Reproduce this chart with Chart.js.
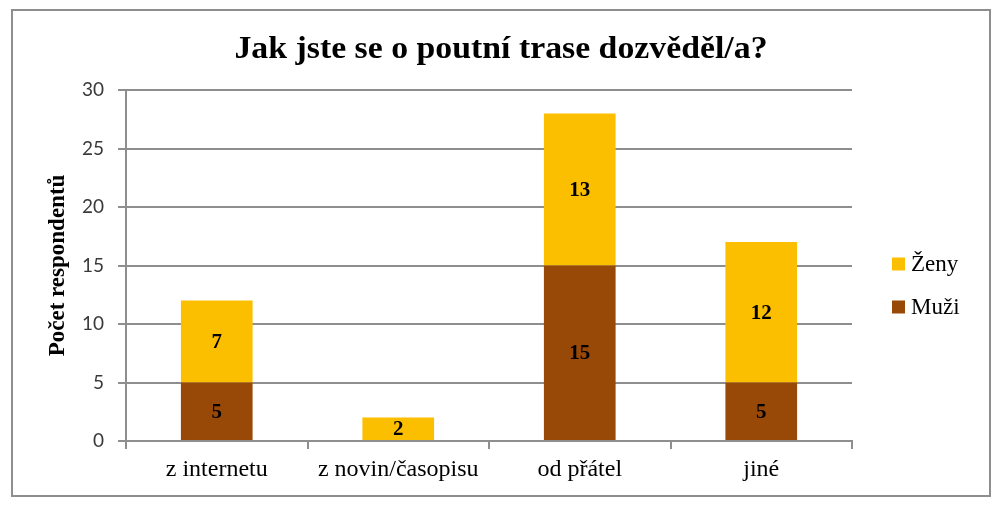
<!DOCTYPE html>
<html lang="cs">
<head>
  <meta charset="UTF-8" />
  <title>Jak jste se o poutní trase dozvěděl/a?</title>
  <style>
    body {
      margin: 0;
      background: #fff;
    }
    .ramecek {
      position: absolute;
      left: 11px;
      top: 9px;
      width: 976px;
      height: 484px;
      border: 2px solid #8e8e8e;
      pointer-events: none;
    }
    .obal {
      position: absolute;
      left: 0;
      top: 0;
      width: 1003px;
      height: 508px;
    }
  </style>
</head>
<body>
  <div class="obal"><canvas id="graf"></canvas></div>
  <div class="ramecek"></div>

  <script src="https://cdn.jsdelivr.net/npm/chart.js"></script>
  <script>
    const nadpis = 'Jak jste se o poutní trase dozvěděl/a?';
    const kategorie = ['z internetu', 'z novin/časopisu', 'od přátel', 'jiné'];
    const muzi = [5, 0, 15, 5];
    const zeny = [7, 2, 13, 12];
    const osaY = [0, 5, 10, 15, 20, 25, 30];

    const serif = '"Liberation Serif", "Times New Roman", serif';
    const sans = 'Lato, "Open Sans", sans-serif';

    // nadpis - v originale je trochu roztazeny do sirky
    const titulek = {
      id: 'titulek',
      afterDraw(chart) {
        const ctx = chart.ctx;
        ctx.save();
        ctx.font = 'bold 31px ' + serif;
        ctx.fillStyle = '#000';
        ctx.textAlign = 'center';
        ctx.textBaseline = 'alphabetic';
        ctx.translate(501, 58);
        ctx.scale(1.09, 1);
        ctx.fillText(nadpis, 0, 0);
        ctx.restore();
      }
    };

    // popisky hodnot uprostred sloupcu
    const popisky = {
      id: 'popisky',
      afterDatasetsDraw(chart) {
        const ctx = chart.ctx;
        ctx.save();
        ctx.font = 'bold 21px ' + serif;
        ctx.fillStyle = '#000';
        ctx.textAlign = 'center';
        ctx.textBaseline = 'middle';
        chart.data.datasets.forEach((ds, i) => {
          chart.getDatasetMeta(i).data.forEach((bar, j) => {
            const v = ds.data[j];
            if (!v) return;
            const p = bar.getProps(['x', 'y', 'base'], true);
            ctx.fillText(String(v), p.x, (p.y + p.base) / 2 + 1);
          });
        });
        ctx.restore();
      }
    };

    // legenda vpravo (Ženy nahore, Muži dole)
    const legenda = {
      id: 'legenda',
      afterDraw(chart) {
        const ctx = chart.ctx;
        ctx.save();
        ctx.font = '23px ' + serif;
        ctx.textBaseline = 'middle';
        const poradi = [1, 0];
        poradi.forEach((i, k) => {
          const ds = chart.data.datasets[i];
          const y = 264 + k * 43;
          ctx.fillStyle = ds.backgroundColor;
          ctx.fillRect(892, y - 6.5, 13, 13);
          ctx.fillStyle = '#000';
          ctx.fillText(ds.label, 911, y + 1);
        });
        ctx.restore();
      }
    };

    new Chart(document.getElementById('graf'), {
      type: 'bar',
      data: {
        labels: kategorie,
        datasets: [
          { label: 'Muži', data: muzi, backgroundColor: '#984807' },
          { label: 'Ženy', data: zeny, backgroundColor: '#fcbf00' }
        ]
      },
      options: {
        responsive: true,
        maintainAspectRatio: false,
        animation: false,
        events: [],
        layout: { padding: { left: 0, right: 151, top: 90, bottom: 0 } },
        datasets: {
          bar: { categoryPercentage: 1, barPercentage: 0.395 }
        },
        plugins: {
          legend: { display: false },
          tooltip: { enabled: false },
          title: { display: false }
        },
        scales: {
          x: {
            stacked: true,
            afterFit: s => { s.height = 67; },
            grid: { display: true, drawOnChartArea: false, color: '#8e8e8e', lineWidth: 2, tickLength: 8 },
            border: { color: '#8e8e8e', width: 2 },
            ticks: { color: '#000', padding: 6, font: { family: serif, size: 24 } }
          },
          y: {
            stacked: true,
            min: 0,
            max: 30,
            afterFit: s => { s.width = 126; },
            afterBuildTicks: s => { s.ticks = osaY.map(v => ({ value: v })); },
            grid: { color: '#8e8e8e', lineWidth: 2, tickLength: 8 },
            border: { color: '#8e8e8e', width: 2 },
            ticks: { color: '#3a3a3a', padding: 14, font: { family: sans, size: 19 } },
            title: {
              display: true,
              text: 'Počet respondentů',
              color: '#000',
              font: { family: serif, size: 23, weight: 'bold' },
              padding: { top: 44, bottom: 0 }
            }
          }
        }
      },
      plugins: [popisky, legenda, titulek]
    });
  </script>
</body>
</html>
